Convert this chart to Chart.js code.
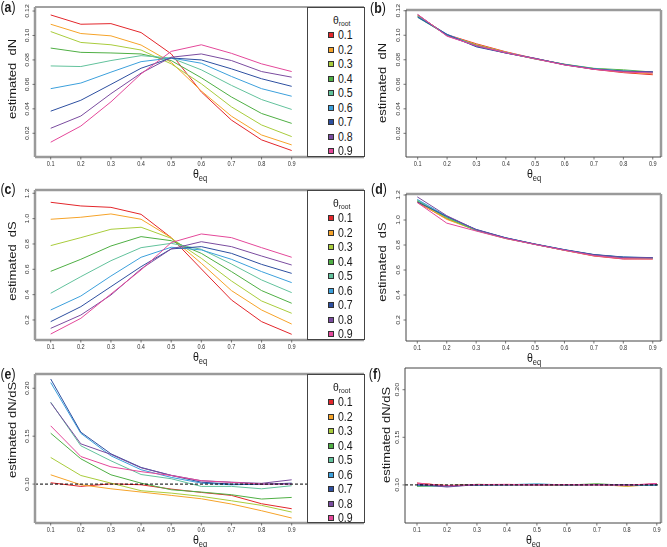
<!DOCTYPE html>
<html>
<head>
<meta charset="utf-8">
<script src="https://cdn.jsdelivr.net/npm/chart.js@4"></script>
<style>
body { margin: 0; background: #fff; }
#fig { position: relative; width: 667px; height: 547px; overflow: hidden;
       font-family: "Liberation Sans", Arial, sans-serif; color: #1a1a1a; background: #fff; }
#fig canvas { position: absolute; left: 0; top: 0; }
.t { position: absolute; white-space: nowrap; line-height: 1; }
.sub { font-size: 8.5px; position: relative; top: 3px; }
.leg { position: absolute; background: #fff; border: 1px solid #444; box-sizing: border-box; }
.sq { position: absolute; width: 6px; height: 6px; border: 1px solid #333; box-sizing: border-box; }
</style>
</head>
<body>
<div id="fig"></div>
<script>
// valeurs de theta_eq (axe x) et theta_root (legende)
const thetaEq = [0.1, 0.2, 0.3, 0.4, 0.5, 0.6, 0.7, 0.8, 0.9];
const thetaRoot = ['0.1', '0.2', '0.3', '0.4', '0.5', '0.6', '0.7', '0.8', '0.9'];
const rootColors = ['#E3262B', '#F6A329', '#A9CC3C', '#4FAF44', '#62C29C', '#3CA0DC', '#2D4FA0', '#7A4C9F', '#E4489A'];

// graduations
const ticksDN = [0.02, 0.04, 0.06, 0.08, 0.10, 0.12];
const labelsDN = ['0.02', '0.04', '0.06', '0.08', '0.10', '0.12'];
const ticksDS = [0.2, 0.4, 0.6, 0.8, 1.0, 1.2];
const labelsDS = ['0.2', '0.4', '0.6', '0.8', '1.0', '1.2'];
const ticksRatio = [0.10, 0.15, 0.20];
const labelsRatio = ['0.10', '0.15', '0.20'];

// (a) dN, theta_root variable - une ligne par theta_root
const dnA = [
  [0.1168, 0.1092, 0.1097, 0.1024, 0.0850, 0.0538, 0.0308, 0.0146, 0.0059],
  [0.1092, 0.1016, 0.0997, 0.0922, 0.0781, 0.0546, 0.0340, 0.0186, 0.0105],
  [0.1032, 0.0943, 0.0924, 0.0881, 0.0768, 0.0605, 0.0416, 0.0268, 0.0173],
  [0.0897, 0.0862, 0.0857, 0.0849, 0.0795, 0.0654, 0.0497, 0.0362, 0.0281],
  [0.0751, 0.0746, 0.0795, 0.0835, 0.0816, 0.0719, 0.0592, 0.0476, 0.0395],
  [0.0565, 0.0611, 0.0700, 0.0786, 0.0816, 0.0773, 0.0665, 0.0565, 0.0503],
  [0.0381, 0.0470, 0.0600, 0.0732, 0.0816, 0.0800, 0.0727, 0.0646, 0.0584],
  [0.0241, 0.0341, 0.0524, 0.0692, 0.0822, 0.0849, 0.0795, 0.0705, 0.0659],
  [0.0127, 0.0259, 0.0457, 0.0686, 0.0870, 0.0924, 0.0854, 0.0768, 0.0705]
];
// (b) dN, theta_root = theta_eq
const dnB = [
  [0.1160, 0.1005, 0.0930, 0.0865, 0.0810, 0.0762, 0.0722, 0.0695, 0.0678],
  [0.1165, 0.1000, 0.0925, 0.0862, 0.0808, 0.0760, 0.0724, 0.0700, 0.0685],
  [0.1158, 0.1002, 0.0920, 0.0860, 0.0808, 0.0762, 0.0728, 0.0712, 0.0695],
  [0.1150, 0.1000, 0.0918, 0.0858, 0.0806, 0.0764, 0.0730, 0.0718, 0.0700],
  [0.1145, 0.1003, 0.0912, 0.0856, 0.0808, 0.0760, 0.0728, 0.0710, 0.0698],
  [0.1152, 0.1008, 0.0910, 0.0858, 0.0810, 0.0762, 0.0726, 0.0708, 0.0700],
  [0.1148, 0.1006, 0.0905, 0.0855, 0.0810, 0.0760, 0.0725, 0.0706, 0.0702],
  [0.1168, 0.0995, 0.0912, 0.0855, 0.0812, 0.0758, 0.0723, 0.0705, 0.0700],
  [0.1170, 0.0992, 0.0915, 0.0858, 0.0807, 0.0758, 0.0722, 0.0700, 0.0692]
];
// (c) dS, theta_root variable
const dsC = [
  [1.129, 1.100, 1.089, 1.034, 0.850, 0.603, 0.358, 0.187, 0.087],
  [0.995, 1.011, 1.037, 0.995, 0.850, 0.647, 0.432, 0.279, 0.168],
  [0.787, 0.850, 0.916, 0.932, 0.845, 0.687, 0.508, 0.350, 0.253],
  [0.584, 0.679, 0.784, 0.858, 0.826, 0.726, 0.582, 0.432, 0.332],
  [0.411, 0.542, 0.668, 0.771, 0.805, 0.758, 0.642, 0.516, 0.416],
  [0.279, 0.389, 0.547, 0.695, 0.774, 0.753, 0.679, 0.582, 0.495],
  [0.187, 0.305, 0.463, 0.621, 0.761, 0.779, 0.726, 0.639, 0.568],
  [0.134, 0.239, 0.397, 0.603, 0.761, 0.818, 0.779, 0.705, 0.634],
  [0.089, 0.213, 0.405, 0.595, 0.811, 0.879, 0.850, 0.771, 0.695]
];
// (d) dS, theta_root = theta_eq
const dsD = [
  [1.140, 1.010, 0.920, 0.855, 0.805, 0.758, 0.712, 0.688, 0.690],
  [1.145, 1.005, 0.918, 0.853, 0.806, 0.757, 0.715, 0.692, 0.688],
  [1.150, 1.015, 0.915, 0.852, 0.806, 0.760, 0.718, 0.698, 0.692],
  [1.155, 1.020, 0.917, 0.856, 0.805, 0.760, 0.722, 0.700, 0.695],
  [1.160, 1.025, 0.920, 0.855, 0.806, 0.760, 0.720, 0.702, 0.696],
  [1.165, 1.030, 0.922, 0.858, 0.807, 0.762, 0.722, 0.703, 0.698],
  [1.145, 1.028, 0.925, 0.858, 0.808, 0.763, 0.724, 0.704, 0.699],
  [1.185, 1.035, 0.922, 0.856, 0.806, 0.760, 0.720, 0.700, 0.697],
  [1.140, 0.975, 0.912, 0.852, 0.804, 0.758, 0.715, 0.690, 0.688]
];
// (e) dN/dS, theta_root variable
const ratioE = [
  [0.1014, 0.0976, 0.1003, 0.0993, 0.0948, 0.0913, 0.0882, 0.0795, 0.0743],
  [0.1097, 0.0993, 0.0951, 0.0917, 0.0882, 0.0847, 0.0792, 0.0722, 0.0646],
  [0.1278, 0.1090, 0.1010, 0.0931, 0.0906, 0.0872, 0.0826, 0.0778, 0.0708],
  [0.1531, 0.1264, 0.1097, 0.1010, 0.0941, 0.0917, 0.0889, 0.0844, 0.0861],
  [0.1855, 0.1400, 0.1243, 0.1100, 0.1056, 0.0976, 0.0976, 0.0951, 0.0983],
  [0.2060, 0.1530, 0.1295, 0.1150, 0.1070, 0.1010, 0.0993, 0.1000, 0.1000],
  [0.2097, 0.1542, 0.1316, 0.1174, 0.1090, 0.1020, 0.1000, 0.0998, 0.1010],
  [0.1850, 0.1420, 0.1310, 0.1170, 0.1092, 0.1035, 0.1020, 0.1008, 0.1045],
  [0.1608, 0.1288, 0.1180, 0.1130, 0.1090, 0.1035, 0.1018, 0.1000, 0.1000]
];
// (f) dN/dS, theta_root = theta_eq
const ratioF = [
  [0.1020, 0.0990, 0.1005, 0.1003, 0.1000, 0.0998, 0.1002, 0.0995, 0.1012],
  [0.1015, 0.0995, 0.1000, 0.1005, 0.1002, 0.1000, 0.1005, 0.0985, 0.1005],
  [0.0995, 0.0990, 0.1002, 0.1004, 0.1003, 0.1001, 0.1006, 0.0990, 0.1003],
  [0.0985, 0.0992, 0.1006, 0.1001, 0.1005, 0.0999, 0.1012, 0.0996, 0.0998],
  [0.0990, 0.0985, 0.1002, 0.1002, 0.1008, 0.1000, 0.1005, 0.1000, 0.0995],
  [0.0995, 0.0988, 0.1000, 0.1003, 0.1010, 0.1000, 0.1004, 0.1002, 0.0998],
  [0.1000, 0.0990, 0.0998, 0.1001, 0.1002, 0.1001, 0.1003, 0.1001, 0.1000],
  [0.1008, 0.0978, 0.1003, 0.1000, 0.1000, 0.1003, 0.1000, 0.0998, 0.1008],
  [0.1018, 0.0992, 0.1004, 0.1006, 0.1001, 0.1002, 0.1000, 0.0997, 0.1015]
];
const refRatio = 0.10;

const W = 667, H = 547;
const GREY = ['#9a9a9a', 2.5], DARK = ['#444', 1];

// box = [gauche, haut, droite, bas] en pixels
const panels = [
  { tag: 'a', data: dnA, box: [35, 7, 364, 157], x: [0.0479, 1.14], y: [0.0006, 0.1233],
    ticks: ticksDN, labels: labelsDN, ytitle: 'estimated&nbsp;&nbsp;dN', yt: [11.5, 79], lab: [8, 7],
    legend: true, sides: { top: DARK, right: DARK, bottom: GREY, left: GREY } },
  { tag: 'b', data: dnB, box: [406, 10, 661, 157], x: [0.0602, 0.928], y: [0.0007, 0.1206],
    ticks: ticksDN, labels: labelsDN, ytitle: 'estimated&nbsp;&nbsp;dN', yt: [382, 83], lab: [378, 8],
    sides: { top: GREY, right: GREY, bottom: DARK, left: DARK } },
  { tag: 'c', data: dsC, box: [35, 190, 364, 340], x: [0.0479, 1.14], y: [0.042, 1.226],
    ticks: ticksDS, labels: labelsDS, ytitle: 'estimated&nbsp;&nbsp;dS', yt: [11.5, 261], lab: [8, 189],
    legend: true, sides: { top: GREY, right: DARK, bottom: GREY, left: GREY } },
  { tag: 'd', data: dsD, box: [406, 194, 661, 341], x: [0.0616, 0.928], y: [0.032, 1.208],
    ticks: ticksDS, labels: labelsDS, ytitle: 'estimated&nbsp;&nbsp;dS', yt: [382, 262], lab: [379, 189],
    sides: { top: GREY, right: GREY, bottom: DARK, left: DARK } },
  { tag: 'e', data: ratioE, box: [35, 374, 364, 523], x: [0.0479, 1.14], y: [0.0594, 0.2149],
    ticks: ticksRatio, labels: labelsRatio, ytitle: 'estimated dN/dS', yt: [11.5, 430], lab: [8, 373.5],
    legend: true, ref: refRatio, sides: { top: GREY, right: DARK, bottom: GREY, left: GREY } },
  { tag: 'f', data: ratioF, box: [405, 368, 661, 523], x: [0.060, 0.914], y: [0.06, 0.2228],
    ticks: ticksRatio, labels: labelsRatio, ytitle: 'estimated dN/dS', yt: [386, 435], lab: [374.5, 374],
    ref: refRatio, sides: { top: DARK, right: GREY, bottom: DARK, left: DARK } }
];

// cadre, graduations et ligne de reference
const framePlugin = {
  id: 'frame',
  afterDatasetsDraw(chart, args, o) {
    const ctx = chart.ctx, a = chart.chartArea;
    const xs = chart.scales.x, ys = chart.scales.y;
    const line = (x1, y1, x2, y2) => { ctx.beginPath(); ctx.moveTo(x1, y1); ctx.lineTo(x2, y2); ctx.stroke(); };
    ctx.save();
    if (o.ref != null) {
      const y = ys.getPixelForValue(o.ref);
      ctx.strokeStyle = '#000'; ctx.lineWidth = 1; ctx.setLineDash([3, 2]);
      line(a.left, y, a.right, y);
      ctx.setLineDash([]);
    }
    const side = (s, x1, y1, x2, y2) => { ctx.strokeStyle = s[0]; ctx.lineWidth = s[1]; line(x1, y1, x2, y2); };
    side(o.sides.top, a.left, a.top, a.right, a.top);
    side(o.sides.right, a.right, a.top, a.right, a.bottom);
    side(o.sides.bottom, a.left, a.bottom, a.right, a.bottom);
    side(o.sides.left, a.left, a.top, a.left, a.bottom);

    ctx.strokeStyle = '#555'; ctx.lineWidth = 0.8;
    ctx.fillStyle = '#333';
    ctx.font = '7px "Liberation Sans", Arial, sans-serif';
    ctx.textAlign = 'center'; ctx.textBaseline = 'middle';
    thetaEq.forEach(v => {
      const x = xs.getPixelForValue(v);
      line(x, a.bottom, x, a.bottom + 2.5);
      ctx.save(); ctx.translate(x, a.bottom + 7.5); ctx.scale(0.8, 1);
      ctx.fillText(v.toFixed(1), 0, 0); ctx.restore();
    });
    o.ticks.forEach((v, i) => {
      const y = ys.getPixelForValue(v);
      line(a.left, y, a.left - 2.5, y);
      ctx.save(); ctx.translate(a.left - 7.5, y); ctx.rotate(-Math.PI / 2); ctx.scale(1, 0.85);
      ctx.fillText(o.labels[i], 0, 0); ctx.restore();
    });
    ctx.restore();
  }
};

const fig = document.getElementById('fig');

function addText(html, x, y, css, extra) {
  const d = document.createElement('div');
  d.className = 't';
  d.innerHTML = html;
  d.style.left = x + 'px';
  d.style.top = y + 'px';
  d.style.cssText += css || '';
  d.style.transform = 'translate(-50%,-50%) ' + (extra || 'scaleX(0.88)');
  fig.appendChild(d);
  return d;
}

panels.forEach(p => {
  const cv = document.createElement('canvas');
  cv.width = W; cv.height = H;
  fig.appendChild(cv);
  new Chart(cv, {
    type: 'line',
    data: {
      datasets: p.data.map((vals, i) => ({
        label: thetaRoot[i],
        data: thetaEq.map((x, j) => ({ x: x, y: vals[j] })),
        borderColor: rootColors[i],
        borderWidth: 1,
        pointRadius: 0,
        tension: 0,
        fill: false,
        order: 9 - i
      }))
    },
    options: {
      responsive: false,
      animation: false,
      events: [],
      layout: { padding: { left: p.box[0], top: p.box[1], right: W - p.box[2], bottom: H - p.box[3] } },
      scales: {
        x: { type: 'linear', display: false, min: p.x[0], max: p.x[1] },
        y: { type: 'linear', display: false, min: p.y[0], max: p.y[1] }
      },
      plugins: {
        legend: { display: false },
        tooltip: { enabled: false },
        frame: { ticks: p.ticks, labels: p.labels, ref: p.ref, sides: p.sides }
      }
    },
    plugins: [framePlugin]
  });
});

// textes : etiquettes de panneau, titres d'axes, legendes
panels.forEach(p => {
  const [l, t, r, b] = p.box;
  addText('(<b>' + p.tag + '</b>)', p.lab[0], p.lab[1], 'font-size:14px;');
  addText('&theta;<span class="sub">eq</span>', (l + r) / 2, b + 16.5, 'font-size:12px;');
  addText(p.ytitle, p.yt[0], p.yt[1], 'font-size:13px;', 'rotate(-90deg) scaleY(0.85)');
  if (p.legend) {
    const lg = document.createElement('div');
    lg.className = 'leg';
    lg.style.left = '307px'; lg.style.top = t + 'px';
    lg.style.width = (r - 307 + 1) + 'px'; lg.style.height = (b - t) + 'px';
    fig.appendChild(lg);
    const tt = document.createElement('div');
    tt.className = 't';
    tt.style.cssText += 'left:25px;top:7px;font-size:11.5px;transform:scaleX(0.9);transform-origin:left top;';
    tt.innerHTML = '&theta;<span style="font-size:7.5px;position:relative;top:2px">root</span>';
    lg.appendChild(tt);
    thetaRoot.forEach((lab, i) => {
      const cy = 27 + i * 14.5;
      const sq = document.createElement('div');
      sq.className = 'sq';
      sq.style.left = '20px'; sq.style.top = (cy - 3) + 'px';
      sq.style.background = rootColors[i];
      lg.appendChild(sq);
      const tx = document.createElement('div');
      tx.className = 't';
      tx.style.cssText += 'left:30px;top:' + (cy - 6) + 'px;font-size:12px;transform:scaleX(0.88);transform-origin:left center;';
      tx.textContent = lab;
      lg.appendChild(tx);
    });
  }
});
</script>
</body>
</html>
